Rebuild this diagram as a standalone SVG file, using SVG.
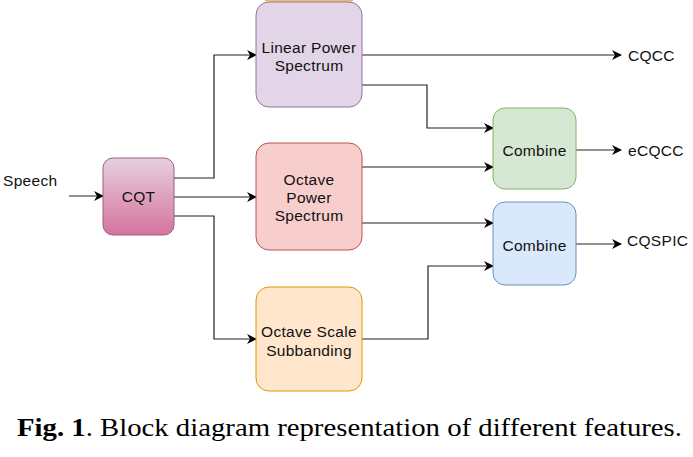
<svg xmlns="http://www.w3.org/2000/svg" width="693" height="457" viewBox="0 0 693 457">
<style>
text{font-family:"Liberation Sans",Arial,sans-serif;font-size:15.5px;letter-spacing:0.3px;fill:#111;}
.lbl{text-anchor:middle;}
.c{fill:none;stroke:#222;stroke-width:1.2;}
.cap{font-family:"Liberation Serif","Times New Roman",serif;font-size:26px;letter-spacing:0;fill:#000;}
</style>
<defs>
<marker id="ah" viewBox="0 0 10 10" refX="9" refY="5" markerWidth="10" markerHeight="10" markerUnits="userSpaceOnUse" orient="auto">
<path d="M0,0 L10,5 L0,10 L3,5 Z" fill="#000"/>
</marker>
<linearGradient id="gq" x1="0" y1="0" x2="0" y2="1">
<stop offset="0" stop-color="#e6d0de"/>
<stop offset="1" stop-color="#d5739d"/>
</linearGradient>
</defs>
<rect width="693" height="457" fill="#fff"/>
<rect x="265" y="-4" width="88" height="5" rx="2" fill="#ffe6cc" stroke="#d79b00"/>
<g id="connectors">
<path class="c" d="M69,196 H103" marker-end="url(#ah)"/>
<path class="c" d="M174,178 H214 V55 H256" marker-end="url(#ah)"/>
<path class="c" d="M174,197 H256" marker-end="url(#ah)"/>
<path class="c" d="M174,216 H214 V339 H256" marker-end="url(#ah)"/>
<path class="c" d="M362,55 H621" marker-end="url(#ah)"/>
<path class="c" d="M362,85 H427 V128 H493" marker-end="url(#ah)"/>
<path class="c" d="M362,167 H493" marker-end="url(#ah)"/>
<path class="c" d="M362,223 H493" marker-end="url(#ah)"/>
<path class="c" d="M362,339 H428 V266 H493" marker-end="url(#ah)"/>
<path class="c" d="M576,150 H621" marker-end="url(#ah)"/>
<path class="c" d="M576,244 H621" marker-end="url(#ah)"/>
</g>
<g id="speech"><text x="3" y="186">Speech</text></g>
<g id="cqt">
<rect x="103" y="158" width="71" height="77" rx="10" fill="url(#gq)" stroke="#996185"/>
<text class="lbl" x="138.5" y="202" font-size="13.5">CQT</text>
</g>
<g id="linear">
<rect x="256" y="2" width="106" height="105" rx="13" fill="#e1d5e7" stroke="#9673a6"/>
<text class="lbl" x="309" y="53">Linear Power</text>
<text class="lbl" x="309" y="71">Spectrum</text>
</g>
<g id="octavepower">
<rect x="256" y="143" width="106" height="107" rx="13" fill="#f8cecc" stroke="#b85450"/>
<text class="lbl" x="309" y="185">Octave</text>
<text class="lbl" x="309" y="203">Power</text>
<text class="lbl" x="309" y="221">Spectrum</text>
</g>
<g id="octavescale">
<rect x="256" y="287" width="106" height="104" rx="13" fill="#ffe6cc" stroke="#d79b00"/>
<text class="lbl" x="309" y="337">Octave Scale</text>
<text class="lbl" x="309" y="356">Subbanding</text>
</g>
<g id="combine1">
<rect x="493" y="108" width="83" height="81" rx="12" fill="#d5e8d4" stroke="#82b366"/>
<text class="lbl" x="534.5" y="156">Combine</text>
</g>
<g id="combine2">
<rect x="493" y="202" width="83" height="83" rx="12" fill="#dae8fc" stroke="#6c8ebf"/>
<text class="lbl" x="534.5" y="251">Combine</text>
</g>
<g id="cqcc"><text x="628" y="61">CQCC</text></g>
<g id="ecqcc"><text x="628" y="156">eCQCC</text></g>
<g id="cqspic"><text x="627" y="246">CQSPIC</text></g>
<text class="cap" x="17" y="436" textLength="665" lengthAdjust="spacingAndGlyphs"><tspan font-weight="bold">Fig. 1</tspan>. Block diagram representation of different features.</text>
</svg>
